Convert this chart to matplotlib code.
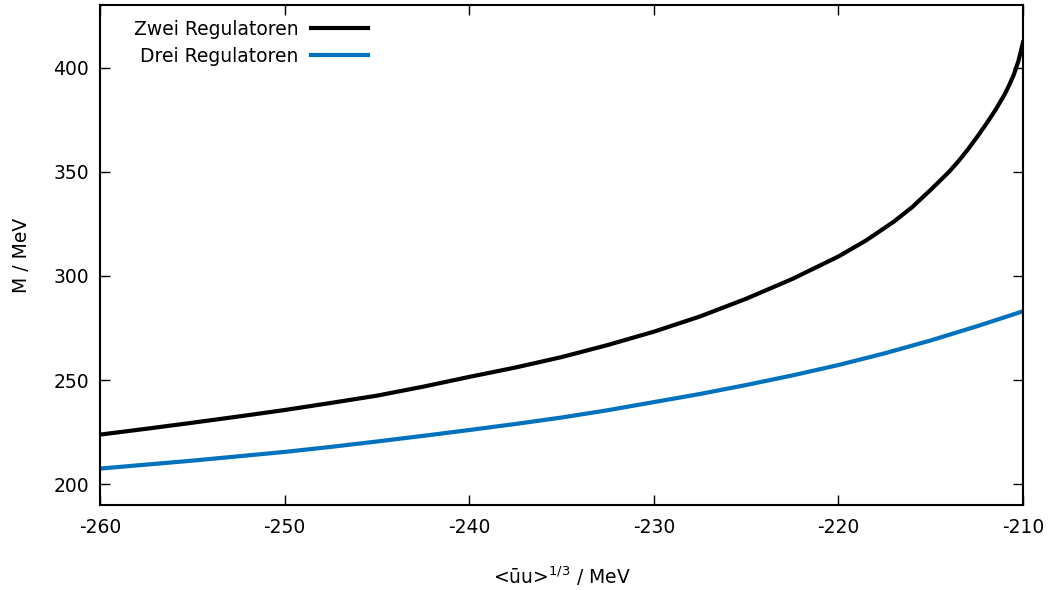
import matplotlib
matplotlib.use("Agg")
import matplotlib.pyplot as plt
import numpy as np

# condensate <uu>^(1/3) in MeV, constituent mass M in MeV
x_zwei = [-260, -257.5, -255, -252.5, -250, -247.5, -245, -242.5, -240, -237.5,
          -235, -232.5, -230, -227.5, -225, -222.5, -220, -218.5, -217, -216,
          -215, -214, -213.5, -213, -212.5, -212, -211.5, -211, -210.75, -210.5,
          -210.25, -210]
m_zwei = [223.8, 226.6, 229.5, 232.5, 235.6, 239.0, 242.5, 246.8, 251.5, 256.0,
          261.0, 266.8, 273.2, 280.5, 289.0, 298.5, 309.3, 317.0, 326.0, 333.0,
          341.3, 350.0, 355.0, 360.5, 366.5, 372.8, 379.5, 387.0, 391.5, 396.5,
          403.0, 412.0]

x_drei = [-260, -257.5, -255, -252.5, -250, -247.5, -245, -242.5, -240, -237.5,
          -235, -232.5, -230, -227.5, -225, -222.5, -220, -217.5, -215, -212.5, -210]
m_drei = [207.5, 209.4, 211.3, 213.4, 215.5, 217.9, 220.5, 223.2, 226.0, 228.9,
          232.0, 235.5, 239.4, 243.3, 247.6, 252.2, 257.2, 262.8, 269.0, 275.8, 283.0]

labels = ["Zwei Regulatoren", "Drei Regulatoren"]
colors = ["black", "#0072bd"]

plt.rcParams["font.family"] = ["DejaVu Sans"]
plt.rcParams["mathtext.fontset"] = "dejavusans"
plt.rcParams["axes.unicode_minus"] = False

fig = plt.figure(figsize=(10.53, 5.90), dpi=100)
ax = fig.add_axes([0.095, 0.144, 0.8765, 0.8475])

ax.plot(x_zwei, m_zwei, color=colors[0], lw=3, label=labels[0])
ax.plot(x_drei, m_drei, color=colors[1], lw=3, label=labels[1])

ax.set_xlim(-260, -210)
ax.set_ylim(190, 430)
ax.set_xticks(np.arange(-260, -209, 10))
ax.set_yticks(np.arange(200, 401, 50))
ax.tick_params(direction="in", length=7.5, width=1, top=True, right=True,
               labelsize=13.5)
ax.tick_params(axis="x", pad=9)
ax.tick_params(axis="y", pad=8)
for s in ax.spines.values():
    s.set_linewidth(1.5)

ax.set_xlabel("<ūu>$^{1/3}$ / MeV", fontsize=13.5, labelpad=20)
ax.set_ylabel("M / MeV", fontsize=13.5, labelpad=16)

leg = ax.legend(loc="upper left", bbox_to_anchor=(0.018, 1.004), frameon=False,
                markerfirst=False, fontsize=13.5, handlelength=3.0,
                handletextpad=0.7, labelspacing=0.42)
for t in leg.get_texts():
    t.set_ha("right")
leg._legend_box.align = "right"

fig.savefig("out.png", dpi=100)
